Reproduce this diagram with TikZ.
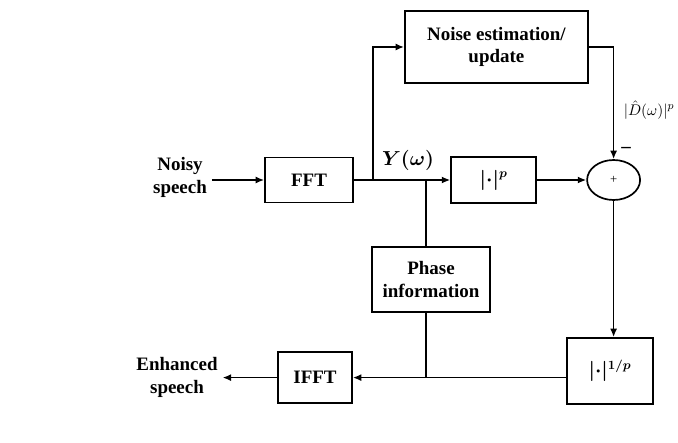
\documentclass[tikz,border=0pt]{standalone}
\usepackage{amsmath}
\usepackage{fontspec}
\setmainfont{Liberation Serif}
\usetikzlibrary{positioning,shapes.geometric,arrows.meta}
\tikzset{
  blk/.style={draw,line width=1.2pt,align=center,inner sep=2pt,font=\fontsize{13.5}{16}\selectfont\bfseries\boldmath},
  lbl/.style={align=center,font=\fontsize{13.5}{16}\selectfont\bfseries},
  wire/.style={line width=1.2pt},
  arr/.style={wire,-{Latex[length=6pt,width=5pt]}}
}

\begin{document}
\begin{tikzpicture}
  \useasboundingbox (0,0) rectangle (16.95,11.05);

  \node[lbl] at(4.5,6.62)(noisy){Noisy\\speech};
  \node[lbl] at(4.425,1.62)(enh){Enhanced\\speech};

  \node[blk,minimum width=2.2cm,minimum height=1.125cm] at(7.725,6.55)(fft){FFT};
  \node[blk,minimum width=4.575cm,minimum height=1.8cm] at(12.41,9.875)(noise){Noise estimation/\\update};
  \node[blk,minimum width=2.125cm,minimum height=1.15cm] at(12.34,6.55)(pw){$|{\cdot}|^{p}$};
  \node[draw,ellipse,line width=1.2pt,inner sep=0pt,minimum width=1.325cm,minimum height=1cm,font=\fontsize{9}{10}\selectfont] at(15.34,6.55)(sum){+};
  \node[blk,minimum width=2.95cm,minimum height=1.625cm] at(10.775,4.06)(phase){Phase\\information};
  \node[blk,minimum width=2.15cm,minimum height=1.65cm] at(15.25,1.775)(ipw){$|{\cdot}|^{1/p}$};
  \node[blk,minimum width=1.85cm,minimum height=1.275cm] at(7.875,1.61)(ifft){IFFT};

  \coordinate (up) at(9.325,6.55);
  \coordinate (br) at(10.65,6.55);

  \node[font=\fontsize{13.5}{16}\selectfont\boldmath] at(10.2,7.05)(y){$Y(\omega)$};
  \node[anchor=east,inner sep=1pt,font=\fontsize{11}{13}\selectfont] at(16.9,8.3)(d){$|\hat{D}(\omega)|^{p}$};
  \node[lbl,inner sep=1pt] at(15.65,7.3)(minus){--};

  \draw [arr](noisy.east |- fft.west) -- (fft.west);
  \draw [wire](fft.east) -- (br);
  \draw [arr](br) -- (pw.west);
  \draw [arr](up) |- (noise.west);
  \draw [arr](pw.east) -- (sum.west);
  \draw [arr](noise.east) -| (sum.north);
  \draw [arr](sum.south) -- (sum.south |- ipw.north);
  \draw [wire](br) -- (br |- phase.north);
  \draw [wire](br |- phase.south) -- (br |- ifft.east);
  \draw [arr](ipw.west |- ifft.east) -- (ifft.east);
  \draw [arr](ifft.west) -- (enh.east |- ifft.west);

\end{tikzpicture}
\end{document}
